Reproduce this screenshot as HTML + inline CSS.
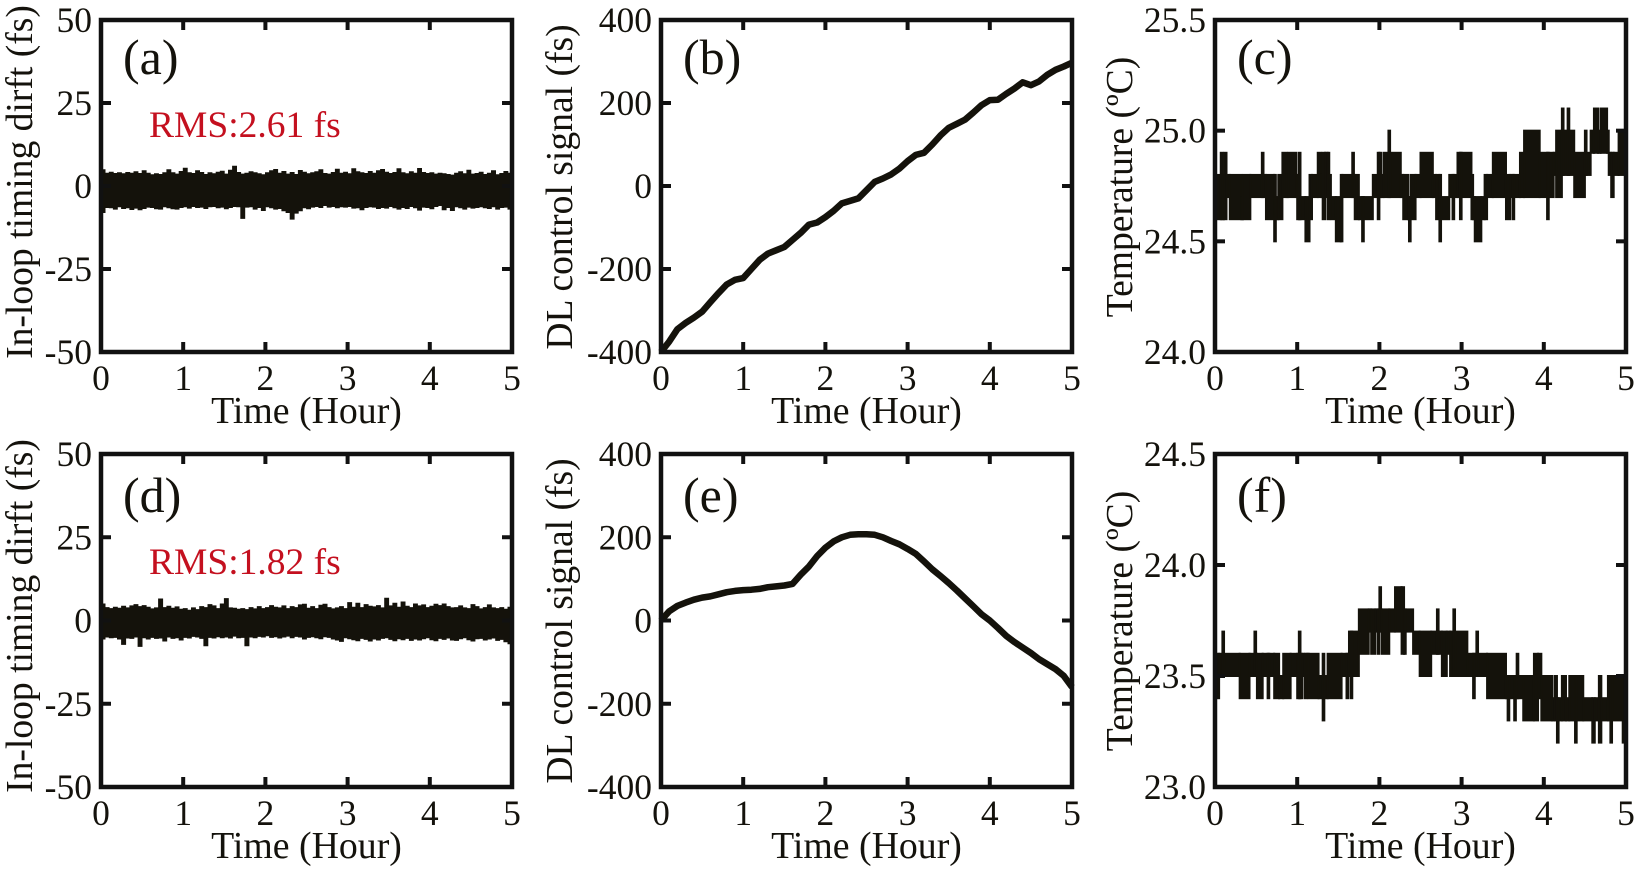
<!DOCTYPE html>
<html lang="en">
<head>
<meta charset="utf-8">
<title>Timing drift, control signal and temperature over five hours</title>
<style>
html,body{margin:0;padding:0;background:#fff;}
body{width:1639px;height:872px;overflow:hidden;}
svg{display:block;}
text{font-family:"Liberation Serif",serif;fill:#14120c;}
</style>
</head>
<body>
<svg id="figure" width="1639" height="872" viewBox="0 0 1639 872" xmlns="http://www.w3.org/2000/svg"></svg>
<script>
const xTickValues = [0, 1, 2, 3, 4, 5];
const driftTickValues = [-50, -25, 0, 25, 50];
const driftTickLabels = ['-50', '-25', '0', '25', '50'];
const controlTickValues = [-400, -200, 0, 200, 400];
const controlTickLabels = ['-400', '-200', '0', '200', '400'];
const tempCTickValues = [24.0, 24.5, 25.0, 25.5];
const tempCTickLabels = ['24.0', '24.5', '25.0', '25.5'];
const tempFTickValues = [23.0, 23.5, 24.0, 24.5];
const tempFTickLabels = ['23.0', '23.5', '24.0', '24.5'];

const driftAUpper = [4.9,3.9,4.2,3.8,4.0,3.7,4.1,3.9,4.3,3.8,4.6,3.9,3.4,3.7,3.5,4.0,4.9,4.0,3.6,4.4,
  5.4,4.0,3.8,4.6,4.1,3.5,4.0,3.7,4.2,4.5,3.6,4.8,6.0,4.1,3.6,3.9,4.3,4.0,3.7,3.4,
  4.0,4.6,5.0,3.9,4.4,3.6,4.1,3.5,4.7,4.2,3.7,4.0,4.3,4.9,3.8,3.6,4.1,5.1,3.9,4.2,
  3.7,5.2,4.3,4.0,3.8,4.4,3.9,4.6,5.0,4.2,3.8,4.1,5.2,4.0,3.7,4.3,3.9,5.3,4.1,3.8,
  4.0,3.6,3.9,3.7,3.5,3.3,3.9,4.3,3.7,4.8,3.6,3.8,4.2,3.5,3.9,4.6,3.4,3.8,4.4,3.9];
const driftALower = [-8.0,-6.5,-6.6,-7.0,-6.3,-6.8,-6.6,-7.1,-6.7,-7.2,-6.8,-6.4,-6.5,-6.9,-7.0,-6.3,-6.6,-6.9,-7.0,-6.5,
  -6.3,-6.7,-6.2,-6.5,-6.4,-6.8,-6.3,-6.2,-6.6,-6.4,-6.9,-6.5,-6.2,-6.3,-9.8,-6.4,-6.3,-7.0,-6.5,-7.4,
  -6.3,-6.6,-7.0,-6.8,-7.5,-8.0,-10.0,-8.2,-7.5,-6.6,-6.9,-6.4,-6.2,-6.5,-5.9,-6.4,-6.2,-6.6,-6.3,-6.4,
  -6.2,-6.7,-6.6,-7.2,-6.5,-6.3,-6.4,-6.8,-6.5,-6.7,-6.2,-6.6,-7.0,-6.5,-6.8,-6.2,-6.6,-7.3,-6.4,-6.5,
  -6.9,-6.2,-5.9,-7.2,-6.5,-7.4,-6.3,-6.6,-7.0,-6.4,-6.7,-6.5,-6.3,-6.6,-6.8,-6.3,-7.0,-6.5,-6.4,-7.0];
const driftDUpper = [5.0,3.9,3.6,4.0,3.7,4.3,3.8,4.4,4.8,4.2,4.5,4.0,3.5,3.8,6.5,3.9,4.3,3.7,4.1,3.4,
  3.6,3.1,3.8,3.3,4.2,3.9,4.8,4.4,3.6,5.0,6.6,3.8,3.7,3.4,3.6,3.3,3.9,3.5,4.2,3.6,
  3.9,4.5,4.0,3.8,4.4,3.6,4.2,3.9,4.7,4.9,3.7,4.2,3.6,4.6,4.9,3.9,3.5,3.8,4.2,3.6,
  5.4,4.0,5.2,3.9,4.8,4.3,4.1,4.5,3.8,6.7,4.4,5.2,4.0,5.6,4.3,3.9,5.0,4.4,4.7,3.9,
  4.3,4.9,4.5,5.0,4.2,3.8,3.9,4.4,3.8,3.6,4.8,4.2,3.5,3.9,4.7,3.8,3.6,3.9,3.4,4.0];
const driftDLower = [-5.6,-5.0,-5.2,-5.1,-5.6,-7.2,-5.3,-5.4,-5.0,-7.8,-5.2,-5.6,-5.1,-5.4,-5.3,-6.2,-5.0,-5.4,-5.2,-5.9,
  -5.1,-5.3,-4.8,-5.0,-5.4,-7.6,-5.1,-5.3,-4.9,-5.2,-5.0,-5.3,-4.7,-5.2,-5.1,-7.6,-5.0,-5.2,-4.8,-5.0,
  -4.6,-5.1,-4.9,-5.3,-5.0,-4.7,-5.2,-4.8,-5.0,-5.6,-5.1,-4.9,-5.2,-5.5,-4.9,-5.1,-5.6,-5.9,-6.3,-5.2,
  -5.5,-5.8,-6.1,-5.4,-5.7,-6.2,-5.6,-5.9,-5.4,-5.2,-5.7,-6.1,-5.5,-5.8,-5.4,-6.0,-5.6,-5.9,-5.5,-5.2,
  -5.8,-6.1,-5.4,-5.7,-5.3,-5.9,-6.0,-5.5,-5.2,-5.8,-6.2,-5.5,-5.4,-5.9,-5.6,-5.3,-6.0,-5.7,-6.4,-7.0];

const controlBValues = [-400,-375,-345,-330,-317,-303,-280,-258,-237,-226,-222,-200,-178,-163,-155,-147,-130,-113,-93,-88,
  -75,-60,-42,-36,-30,-10,10,18,28,42,60,75,80,100,122,140,150,160,177,195,
  207,208,222,235,250,243,252,268,280,288,297];
const controlEValues = [0,22,35,43,50,55,58,63,68,71,73,74,76,80,82,84,88,110,130,155,
  175,190,200,206,207,207,206,200,191,183,172,160,142,123,107,90,72,53,34,15,
  0,-18,-37,-52,-65,-78,-93,-105,-117,-133,-160];

const tempCStart = [0.00,0.07,0.09,0.11,0.14,0.18,0.32,0.34,0.43,0.57,0.59,0.62,0.72,0.74,0.77,0.82,0.87,0.89,0.99,1.00,
  1.02,1.04,1.10,1.15,1.18,1.25,1.29,1.31,1.34,1.37,1.39,1.41,1.47,1.53,1.55,1.67,1.69,1.70,1.75,1.79,
  1.81,1.92,1.98,2.00,2.02,2.05,2.11,2.13,2.26,2.29,2.35,2.36,2.38,2.44,2.50,2.65,2.69,2.73,2.75,2.85,
  2.89,2.91,2.95,2.98,3.00,3.12,3.14,3.16,3.24,3.28,3.31,3.38,3.54,3.59,3.62,3.64,3.71,3.76,3.95,4.04,
  4.06,4.12,4.15,4.22,4.24,4.29,4.31,4.37,4.50,4.52,4.57,4.61,4.66,4.69,4.77,4.79,4.82,4.85,4.91];
const tempCLow = [24.6,24.6,24.6,24.6,24.7,24.6,24.6,24.6,24.7,24.7,24.7,24.6,24.5,24.6,24.6,24.7,24.7,24.7,24.7,24.6,
  24.6,24.6,24.5,24.6,24.7,24.7,24.7,24.6,24.7,24.6,24.7,24.6,24.5,24.5,24.7,24.7,24.7,24.6,24.6,24.5,
  24.6,24.7,24.6,24.7,24.7,24.7,24.7,24.7,24.7,24.6,24.6,24.5,24.6,24.7,24.7,24.7,24.6,24.5,24.6,24.7,
  24.6,24.7,24.7,24.6,24.7,24.6,24.6,24.5,24.6,24.6,24.7,24.7,24.6,24.7,24.6,24.7,24.7,24.7,24.7,24.6,
  24.7,24.8,24.7,24.8,24.8,24.8,24.8,24.7,24.8,24.8,24.9,24.9,24.9,24.9,24.9,24.8,24.7,24.8,24.8];
const tempCHigh = [24.8,24.9,24.8,24.9,24.8,24.8,24.7,24.8,24.8,24.9,24.8,24.8,24.8,24.7,24.8,24.9,24.8,24.9,24.8,24.8,
  24.9,24.7,24.7,24.8,24.8,24.9,24.8,24.9,24.9,24.9,24.8,24.7,24.7,24.8,24.8,24.9,24.8,24.8,24.7,24.7,
  24.7,24.8,24.9,24.9,24.8,24.9,25.0,24.9,24.8,24.8,24.7,24.7,24.8,24.8,24.9,24.8,24.8,24.8,24.7,24.8,
  24.8,24.8,24.9,24.9,24.9,24.8,24.7,24.7,24.7,24.8,24.8,24.9,24.8,24.8,24.8,24.8,24.9,25.0,24.9,24.9,
  24.9,24.9,25.0,25.1,25.0,25.1,25.0,24.9,25.0,24.9,25.0,25.1,25.0,25.1,25.0,24.9,24.9,24.9,25.0];

const tempFStart = [0.00,0.02,0.05,0.09,0.11,0.30,0.42,0.48,0.50,0.51,0.58,0.64,0.66,0.72,0.78,0.83,0.92,1.00,1.02,1.04,
  1.06,1.09,1.12,1.14,1.26,1.31,1.33,1.37,1.54,1.60,1.62,1.63,1.65,1.67,1.75,1.87,1.90,1.95,1.98,2.00,
  2.02,2.03,2.12,2.19,2.27,2.30,2.32,2.41,2.49,2.63,2.70,2.72,2.76,2.82,2.86,2.90,2.92,3.07,3.14,3.16,
  3.18,3.20,3.31,3.54,3.56,3.58,3.64,3.66,3.67,3.69,3.75,3.88,3.93,3.97,4.10,4.13,4.16,4.18,4.22,4.27,
  4.31,4.38,4.40,4.48,4.59,4.62,4.67,4.70,4.78,4.81,4.83,4.96,4.98];
const tempFLow = [23.5,23.4,23.5,23.5,23.5,23.4,23.5,23.5,23.5,23.4,23.5,23.4,23.5,23.4,23.4,23.4,23.5,23.4,23.4,23.4,
  23.5,23.4,23.5,23.4,23.4,23.3,23.4,23.4,23.5,23.4,23.5,23.5,23.4,23.5,23.6,23.7,23.6,23.7,23.6,23.7,
  23.7,23.6,23.7,23.7,23.6,23.6,23.7,23.6,23.5,23.6,23.6,23.6,23.5,23.6,23.5,23.5,23.5,23.5,23.4,23.5,
  23.5,23.5,23.4,23.4,23.3,23.4,23.3,23.4,23.4,23.4,23.3,23.3,23.4,23.3,23.3,23.3,23.2,23.3,23.3,23.3,
  23.3,23.2,23.3,23.3,23.2,23.3,23.2,23.3,23.3,23.2,23.3,23.2,23.3];
const tempFHigh = [23.6,23.6,23.6,23.7,23.6,23.6,23.6,23.7,23.6,23.6,23.6,23.6,23.6,23.6,23.5,23.6,23.6,23.6,23.7,23.6,
  23.6,23.6,23.6,23.6,23.5,23.6,23.5,23.6,23.6,23.6,23.6,23.7,23.7,23.7,23.8,23.8,23.8,23.8,23.8,23.9,
  23.8,23.8,23.8,23.9,23.9,23.8,23.8,23.7,23.7,23.7,23.8,23.7,23.7,23.7,23.7,23.8,23.7,23.6,23.6,23.6,
  23.7,23.6,23.6,23.5,23.5,23.5,23.5,23.5,23.6,23.5,23.5,23.6,23.6,23.5,23.4,23.5,23.4,23.4,23.5,23.4,
  23.5,23.5,23.5,23.4,23.4,23.4,23.5,23.4,23.5,23.5,23.5,23.5,23.5];

const SVGNS = 'http://www.w3.org/2000/svg';
const figure = document.getElementById('figure');
const INK = '#14120b';
const HOURS = 5;

function node(parent, tag, attrs) {
  const el = document.createElementNS(SVGNS, tag);
  for (const k in attrs) el.setAttribute(k, attrs[k]);
  parent.appendChild(el);
  return el;
}

function stepPoints(values, sx, sy) {
  const n = values.length;
  const pts = [];
  values.forEach((v, i) => {
    pts.push(sx(i * HOURS / n).toFixed(1) + ',' + sy(v).toFixed(1));
    pts.push(sx((i + 1) * HOURS / n).toFixed(1) + ',' + sy(v).toFixed(1));
  });
  return pts;
}

function drawPanel(cfg) {
  const g = node(figure, 'g', {});
  
  
  const sx = h => cfg.left + (h / HOURS) * (cfg.right - cfg.left);
  const sy = v => cfg.bottom - ((v - cfg.yMin) / (cfg.yMax - cfg.yMin)) * (cfg.bottom - cfg.top);

  if (cfg.upper) {
    const top = stepPoints(cfg.upper, sx, sy);
    const bot = stepPoints(cfg.lower, sx, sy).reverse();
    const band = node(g, 'polygon', {points: top.concat(bot).join(' '), fill: INK, stroke: INK, 'stroke-width': 0.8});
    
    
  }
  if (cfg.line) {
    const n = cfg.line.length;
    const pts = cfg.line.map((v, i) => sx(i * HOURS / (n - 1)).toFixed(1) + ',' + sy(v).toFixed(1)).join(' ');
    const line = node(g, 'polyline', {points: pts, fill: 'none', stroke: INK, 'stroke-width': 6.5, 'stroke-linejoin': 'round'});
    
    
  }
  if (cfg.starts) {
    const steps = node(g, 'g', {fill: INK, stroke: INK, 'stroke-width': 2});
    
    
    cfg.starts.forEach((s, i) => {
      const e = i + 1 < cfg.starts.length ? cfg.starts[i + 1] : HOURS;
      const bar = node(steps, 'rect', {x: sx(s), y: sy(cfg.highs[i]), width: sx(e) - sx(s), height: sy(cfg.lows[i]) - sy(cfg.highs[i])});
      
      
    });
  }

  const frame = node(g, 'rect', {x: cfg.left, y: cfg.top, width: cfg.right - cfg.left, height: cfg.bottom - cfg.top, fill: 'none', stroke: '#111', 'stroke-width': 4.5});
  
  

  xTickValues.forEach(v => {
    const x = sx(v);
    if (v > 0 && v < HOURS) {
      const t1 = node(g, 'line', {x1: x, x2: x, y1: cfg.bottom, y2: cfg.bottom - 10, stroke: '#111', 'stroke-width': 4});
      
      
      const t2 = node(g, 'line', {x1: x, x2: x, y1: cfg.top, y2: cfg.top + 10, stroke: '#111', 'stroke-width': 4});
      
      
    }
    const lab = node(g, 'text', {x: x, y: cfg.bottom + 38, 'text-anchor': 'middle', 'font-size': 35.5});
    lab.textContent = String(v);
    
    
  });

  cfg.yTicks.forEach((v, i) => {
    const y = sy(v);
    if (v > cfg.yMin && v < cfg.yMax) {
      const t1 = node(g, 'line', {x1: cfg.left, x2: cfg.left + 10, y1: y, y2: y, stroke: '#111', 'stroke-width': 4});
      
      
      const t2 = node(g, 'line', {x1: cfg.right, x2: cfg.right - 10, y1: y, y2: y, stroke: '#111', 'stroke-width': 4});
      
      
    }
    const lab = node(g, 'text', {x: cfg.left - 9, y: y + 12, 'text-anchor': 'end', 'font-size': 35.5});
    lab.textContent = cfg.yLabels[i];
    
    
  });

  const xTitle = node(g, 'text', {x: (cfg.left + cfg.right) / 2, y: cfg.bottom + 71, 'text-anchor': 'middle', 'font-size': 37.8});
  xTitle.textContent = 'Time (Hour)';
  
  

  const yTitle = node(g, 'text', {transform: 'translate(' + cfg.yTitleX + ',' + cfg.yTitleY + ') rotate(-90)', 'text-anchor': 'middle', 'font-size': 37.6});
  yTitle.textContent = cfg.yTitle;
  
  

  const tag = node(g, 'text', {x: cfg.left + 22, y: cfg.top + cfg.letterDy, 'font-size': 50});
  tag.textContent = '(' + cfg.id + ')';
  
  

  if (cfg.rms) {
    const rms = node(g, 'text', {x: cfg.left + 48, y: cfg.top + cfg.rmsDy, 'font-size': 37.5});
    rms.style.fill = '#c4101f';
    rms.textContent = cfg.rms;
    
    
  }
}

const rowA = {top: 20, bottom: 352, letterDy: 54, rmsDy: 117};
const rowB = {top: 454, bottom: 787, letterDy: 58, rmsDy: 120};
const colA = {left: 101, right: 512, yTitleX: 32};
const colB = {left: 661, right: 1072, yTitleX: 572};
const colC = {left: 1215, right: 1626, yTitleX: 1132};
const driftTitle = 'In-loop timing dirft (fs)';
const controlTitle = 'DL control signal (fs)';
const tempTitle = 'Temperature (\u00BAC)';

drawPanel({id: 'a', ...rowA, ...colA, yMin: -50, yMax: 50, yTicks: driftTickValues, yLabels: driftTickLabels, yTitle: driftTitle, yTitleY: 182, upper: driftAUpper, lower: driftALower, rms: 'RMS:2.61 fs'});
drawPanel({id: 'b', ...rowA, ...colB, yMin: -400, yMax: 400, yTicks: controlTickValues, yLabels: controlTickLabels, yTitle: controlTitle, yTitleY: 187, line: controlBValues});
drawPanel({id: 'c', ...rowA, ...colC, yMin: 24, yMax: 25.5, yTicks: tempCTickValues, yLabels: tempCTickLabels, yTitle: tempTitle, yTitleY: 187, starts: tempCStart, lows: tempCLow, highs: tempCHigh});
drawPanel({id: 'd', ...rowB, ...colA, yMin: -50, yMax: 50, yTicks: driftTickValues, yLabels: driftTickLabels, yTitle: driftTitle, yTitleY: 616, upper: driftDUpper, lower: driftDLower, rms: 'RMS:1.82 fs'});
drawPanel({id: 'e', ...rowB, ...colB, yMin: -400, yMax: 400, yTicks: controlTickValues, yLabels: controlTickLabels, yTitle: controlTitle, yTitleY: 621, line: controlEValues});
drawPanel({id: 'f', ...rowB, ...colC, yMin: 23, yMax: 24.5, yTicks: tempFTickValues, yLabels: tempFTickLabels, yTitle: tempTitle, yTitleY: 621, starts: tempFStart, lows: tempFLow, highs: tempFHigh});
</script>
</body>
</html>
